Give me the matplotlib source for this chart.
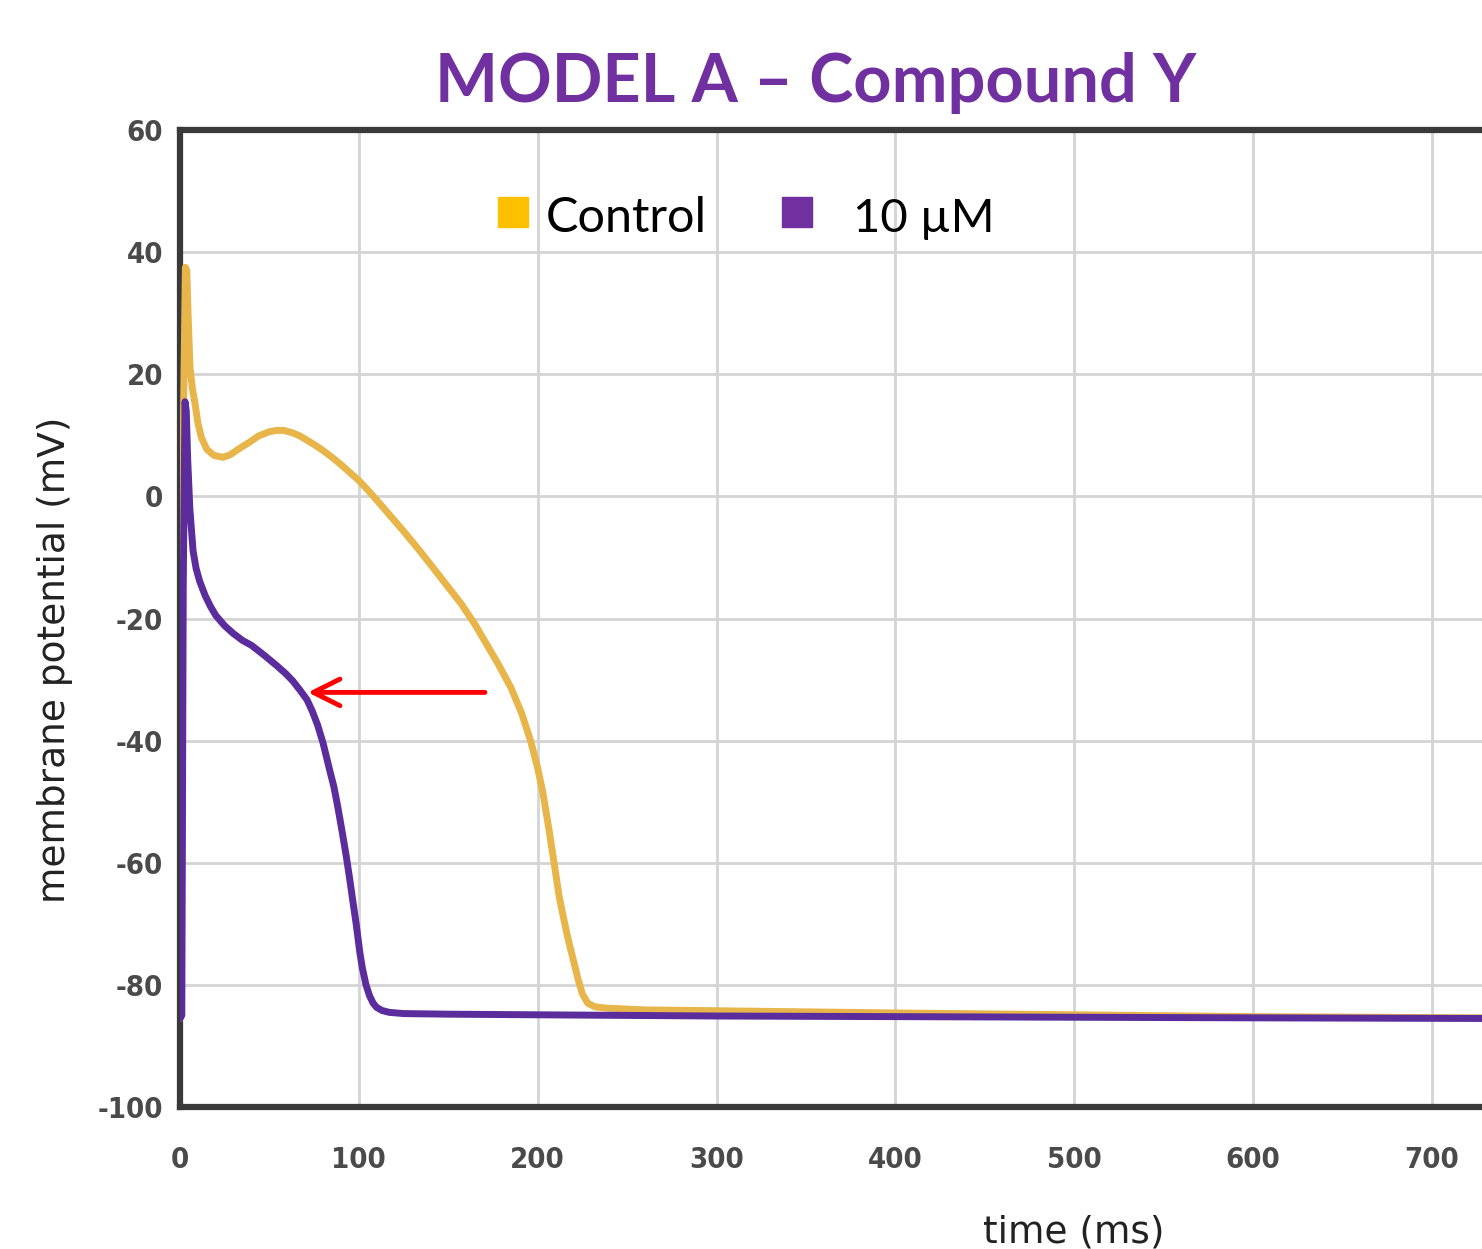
import matplotlib.pyplot as plt
from matplotlib.patches import Rectangle

plt.rcParams["axes.unicode_minus"] = False

# action potential traces
t_control = [0, 1, 1.8, 3, 3.8, 4.5, 5.6, 7, 8.4, 10, 12, 15, 19, 24, 28, 33, 39, 44, 50, 54, 58,
             63, 67, 71, 76, 80, 85, 90, 95, 100, 107, 115, 125, 134, 145, 157, 165, 171, 178,
             185, 191, 196, 200, 203, 206, 209, 212, 214, 217, 220, 222.5, 225, 228, 232, 238,
             260, 290, 400, 500, 600, 728]
v_control = [-85.5, -60, 10, 37.5, 37, 30, 21, 17.5, 15.2, 12, 9.6, 7.7, 6.7, 6.4, 6.8, 7.8, 8.9,
             9.9, 10.6, 10.8, 10.8, 10.4, 9.9, 9.2, 8.3, 7.5, 6.4, 5.2, 3.9, 2.6, 0.4, -2.3, -5.7,
             -8.9, -13, -17.5, -21, -24, -27.5, -31.3, -35.5, -40, -44.5, -48.7, -54, -59.7,
             -65.5, -68.4, -72.5, -76, -79, -81.5, -83, -83.6, -83.8, -84.1, -84.2, -84.6, -84.9,
             -85.2, -85.4]

t_drug = [0, 1, 1.8, 2.8, 3.5, 4.3, 5.5, 7.3, 9, 11, 14, 17, 20, 25, 30, 35, 40, 47, 54, 59, 63,
          67, 71, 74, 77, 80, 82, 84, 86, 88, 89.4, 91, 93, 95, 97, 98.5, 100.6, 102, 104, 106,
          108, 110, 113, 117, 125, 150, 200, 300, 400, 500, 600, 728]
v_drug = [-85.5, -85, -15, 15.5, 14, 6, -2, -8.9, -11.8, -13.9, -16.2, -18, -19.5, -21.2, -22.5,
          -23.6, -24.4, -26, -27.7, -29, -30.2, -31.7, -33.3, -35.2, -37.5, -40.4, -42.8, -45.2,
          -47.5, -50.5, -52.8, -55.5, -59, -62.9, -67, -70, -74.8, -77.3, -80, -81.8, -83, -83.7,
          -84.2, -84.5, -84.7, -84.8, -84.9, -85.1, -85.2, -85.3, -85.4, -85.5]

x_ticks = [0, 100, 200, 300, 400, 500, 600, 700]
y_ticks = [-100, -80, -60, -40, -20, 0, 20, 40, 60]
series_names = ["Control", "10 µM"]

W, H = 1482, 1249
fig = plt.figure(figsize=(W / 100, H / 100), dpi=100)
ax = fig.add_axes([180 / W, (H - 1107) / H, (W - 180) / W, (1107 - 130) / H])

ax.plot(t_control, v_control, color="#E8B54A", lw=5, solid_joinstyle="round",
        solid_capstyle="round", zorder=3)
ax.plot(t_drug, v_drug, color="#5B2C9C", lw=5, solid_joinstyle="round",
        solid_capstyle="round", zorder=3)

ax.annotate("", xy=(71.5, -32.1), xytext=(170.5, -32.1),
            arrowprops=dict(arrowstyle="->,head_length=0.4,head_width=0.2", color="red",
                            lw=3.5, mutation_scale=48, shrinkA=0, shrinkB=0), zorder=4)

ax.set_xlim(0, 728)
ax.set_ylim(-100, 60)
ax.set_xticks(x_ticks)
ax.set_yticks(y_ticks)
ax.grid(True, color="#d4d4d4", lw=2)
ax.set_axisbelow(True)
ax.tick_params(length=0, labelcolor="#4a4a4a")
ax.tick_params(axis="x", pad=28)
ax.tick_params(axis="y", pad=12)
for lab in ax.get_xticklabels() + ax.get_yticklabels():
    lab.set_fontweight("bold")
    lab.set_fontstretch("condensed")
    lab.set_fontsize(21)

for s in ["left", "top", "bottom"]:
    ax.spines[s].set_color("#3a3a3a")
    ax.spines[s].set_linewidth(4.5)
ax.spines["right"].set_visible(False)

fig.text(55 / W, (H - 660) / H, "membrane potential (mV)", rotation=90, fontsize=27,
         color="#222222", ha="center", va="center")
fig.text(1074 / W, (H - 1214) / H, "time (ms)", fontsize=27, color="#222222",
         ha="center", va="top")

fig.text(816 / W, (H - 102) / H, "MODEL A – Compound Y", fontsize=48, fontweight="bold",
         family="Lato", color="#7030A0", ha="center", va="baseline")

# legend drawn as squares + text
fig.patches.append(Rectangle((498 / W, (H - 227) / H), 30 / W, 30 / H, transform=fig.transFigure,
                             color="#FFC000", zorder=5))
fig.patches.append(Rectangle((782 / W, (H - 227) / H), 30 / W, 30 / H, transform=fig.transFigure,
                             color="#7030A0", zorder=5))
fig.text(546 / W, (H - 232) / H, series_names[0], fontsize=35, family="Lato", color="black",
         va="baseline")
fig.text(853 / W, (H - 232) / H, series_names[1], fontsize=34, family="Lato", color="black",
         va="baseline")

fig.savefig("out.png", dpi=100)
